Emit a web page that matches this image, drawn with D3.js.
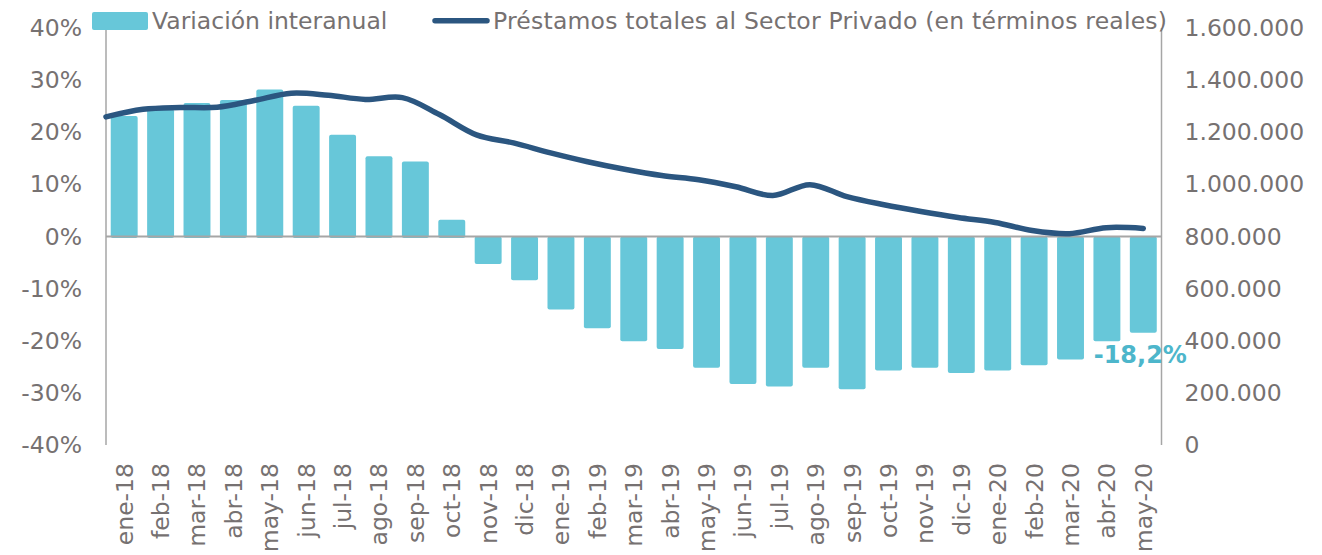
<!DOCTYPE html>
<html><head><meta charset="utf-8">
<script src="https://cdn.jsdelivr.net/npm/d3@7"></script>
<style>
html,body{margin:0;padding:0;background:#fff;}
svg{display:block;font-family:"DejaVu Sans",Verdana,sans-serif;}
</style></head>
<body><svg id="c" width="1322" height="555"></svg>
<script>
const categories = ["ene-18","feb-18","mar-18","abr-18","may-18","jun-18","jul-18","ago-18","sep-18","oct-18","nov-18","dic-18",
  "ene-19","feb-19","mar-19","abr-19","may-19","jun-19","jul-19","ago-19","sep-19","oct-19","nov-19","dic-19",
  "ene-20","feb-20","mar-20","abr-20","may-20"];
const variacion = [23.1,24.4,25.6,26.2,28.2,25.1,19.5,15.4,14.4,3.2,-5.0,-8.1,
  -13.7,-17.3,-19.8,-21.3,-24.9,-28.0,-28.5,-24.9,-29.0,-25.4,-24.9,-25.9,
  -25.4,-24.4,-23.3,-19.8,-18.2];
const prestamos = [1259000,1288000,1295000,1296000,1322000,1350000,1342000,1326000,1333000,1268000,1190000,1159000,
  1121000,1087000,1058000,1034000,1018000,991000,957000,999000,953000,922000,896000,873000,
  854000,823000,811000,834000,831000];
const leftTicks = [-40,-30,-20,-10,0,10,20,30,40];
const rightTicks = [0,200000,400000,600000,800000,1000000,1200000,1400000,1600000];
const legendLabels = ["Variación interanual","Préstamos totales al Sector Privado (en términos reales)"];

const svg = d3.select("#c");
const textColor = "#767171", barColor = "#67c7d9", lineColor = "#2b5680", axisColor = "#a6a6a6";
const fs = 23.5;
const L = 106, R = 1161.5, T = 28, B = 445;

const x = d3.scaleBand().domain(categories).range([L, R]).paddingInner(0.26).paddingOuter(0.13);
const yL = d3.scaleLinear().domain([-40, 40]).range([B, T]);
const yR = d3.scaleLinear().domain([0, 1600000]).range([B, T]);
const xLine = d3.scalePoint().domain(categories).range([L, x(categories[categories.length-1]) + x.bandwidth()/2]);

const loc = d3.formatLocale({decimal:",", thousands:".", grouping:[3], currency:["",""], minus:"-"});
const fmtR = loc.format(",.0f");

// bars
svg.append("g").selectAll("rect").data(categories).join("rect")
  .attr("x", d => x(d))
  .attr("width", x.bandwidth())
  .attr("y", (d,i) => Math.min(yL(variacion[i]), yL(0)))
  .attr("height", (d,i) => Math.abs(yL(variacion[i]) - yL(0)) + 1.5)
  .attr("rx", 2)
  .attr("fill", barColor);

// axes lines
svg.append("line").attr("x1", L).attr("x2", L).attr("y1", T).attr("y2", B).attr("stroke", axisColor).attr("stroke-width", 1.5);
svg.append("line").attr("x1", R).attr("x2", R).attr("y1", T).attr("y2", B).attr("stroke", axisColor).attr("stroke-width", 1.5);
svg.append("line").attr("x1", L).attr("x2", R).attr("y1", yL(0)).attr("y2", yL(0)).attr("stroke", axisColor).attr("stroke-width", 2);

// left axis labels
const gl = svg.append("g").attr("transform", `translate(${L},0)`)
  .call(d3.axisLeft(yL).tickValues(leftTicks).tickSize(0).tickPadding(24).tickFormat(d => d + "%"));
gl.select(".domain").remove();
gl.selectAll("text").attr("fill", textColor).style("font-size", fs + "px").style("font-family", "DejaVu Sans");

// right axis labels
const gr = svg.append("g").attr("transform", `translate(${R},0)`)
  .call(d3.axisRight(yR).tickValues(rightTicks).tickSize(0).tickPadding(23).tickFormat(fmtR));
gr.select(".domain").remove();
gr.selectAll("text").attr("fill", textColor).style("font-size", fs + "px").style("font-family", "DejaVu Sans");

// x labels
svg.append("g").selectAll("text").data(categories).join("text")
  .attr("transform", d => `translate(${x(d) + x.bandwidth()/2},463) rotate(-90)`)
  .attr("text-anchor", "end").attr("dy", "0.36em")
  .attr("fill", textColor).style("font-size", fs + "px")
  .text(d => d);

// line
const line = d3.line().x((d,i) => xLine(categories[i])).y(d => yR(d)).curve(d3.curveCatmullRom.alpha(0.5));
svg.append("path").datum(prestamos).attr("d", line)
  .attr("fill", "none").attr("stroke", lineColor).attr("stroke-width", 5.5)
  .attr("stroke-linecap", "round").attr("stroke-linejoin", "round");

// last value label
const li = categories.length - 1;
svg.append("text")
  .attr("x", x(categories[li]) + x.bandwidth()/2 - 3)
  .attr("y", yL(variacion[li]) + 32)
  .attr("text-anchor", "middle")
  .attr("fill", "#4db6cb").style("font-size", "24px").style("font-weight", "bold")
  .text(loc.format(".1f")(variacion[li]) + "%");

// legend
const lg = svg.append("g");
lg.append("rect").attr("x", 92).attr("y", 12).attr("width", 56).attr("height", 18).attr("rx", 2).attr("fill", barColor);
lg.append("text").attr("x", 152).attr("y", 29).attr("fill", textColor).style("font-size", fs + "px").text(legendLabels[0]);
lg.append("line").attr("x1", 435).attr("x2", 487).attr("y1", 20.7).attr("y2", 20.7)
  .attr("stroke", lineColor).attr("stroke-width", 5.5).attr("stroke-linecap", "round");
lg.append("text").attr("x", 493).attr("y", 29).attr("fill", textColor).style("font-size", fs + "px")
  .attr("textLength", 674).attr("lengthAdjust", "spacing").text(legendLabels[1]);
</script></body></html>
